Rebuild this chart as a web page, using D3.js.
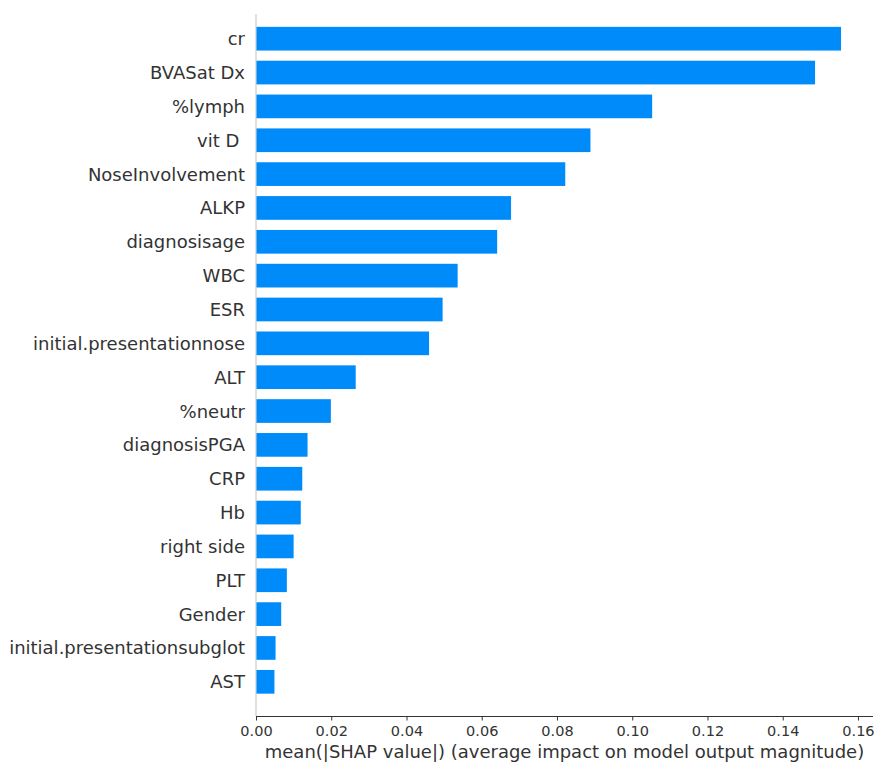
<!DOCTYPE html>
<html>
<head>
<meta charset="utf-8">
<script src="https://cdn.jsdelivr.net/npm/d3@7"></script>
<style>
  html, body { margin: 0; padding: 0; background: #fff; }
  svg { display: block; font-family: "DejaVu Sans", sans-serif; }
</style>
</head>
<body>
<svg id="chart" width="875" height="764"></svg>
<script>
// Feature names, ordered from most to least important
const features = [
  "cr", "BVASat Dx", "%lymph", "vit D ", "NoseInvolvement", "ALKP",
  "diagnosisage", "WBC", "ESR", "initial.presentationnose", "ALT",
  "%neutr", "diagnosisPGA", "CRP", "Hb", "right side", "PLT",
  "Gender", "initial.presentationsubglot", "AST"
];

// mean(|SHAP value|) per feature
const meanAbsShap = [
  0.1555, 0.1486, 0.1053, 0.0889, 0.0822, 0.0678,
  0.0641, 0.0536, 0.0496, 0.0460, 0.0265,
  0.0199, 0.0137, 0.0123, 0.0119, 0.0100, 0.0082,
  0.0067, 0.0052, 0.0049
];

const xTicks = [0, 0.02, 0.04, 0.06, 0.08, 0.10, 0.12, 0.14, 0.16];
const xTitle = "mean(|SHAP value|) (average impact on model output magnitude)";

const svg = d3.select("#chart");
const axisColor = "#333333";
const barColor = "#008bfb";

const plotLeft = 256, plotRight = 873, plotTop = 14, plotBottom = 716;

const x = d3.scaleLinear().domain([0, 0.164]).range([plotLeft, plotRight]);
// bars sit at integer positions; 0.7 wide like the SHAP bar plot
const y = d3.scaleLinear().domain([-0.73, features.length + 0.01]).range([plotTop, plotBottom]);
const barH = y(0.7) - y(0);

// bars
svg.append("g")
  .selectAll("rect")
  .data(features)
  .join("rect")
  .attr("x", x(0))
  .attr("y", (d, i) => y(i) - barH / 2)
  .attr("width", (d, i) => x(meanAbsShap[i]) - x(0))
  .attr("height", barH)
  .attr("fill", barColor);

// feature labels
svg.append("g")
  .selectAll("text")
  .data(features)
  .join("text")
  .attr("x", plotLeft - 11)
  .attr("y", (d, i) => y(i))
  .attr("dy", "0.36em")
  .attr("text-anchor", "end")
  .attr("font-size", 18)
  .attr("fill", axisColor)
  .style("white-space", "pre")
  .text(d => d);

// left spine
svg.append("line")
  .attr("x1", plotLeft).attr("x2", plotLeft)
  .attr("y1", plotTop).attr("y2", plotBottom)
  .attr("stroke", "#cccccc")
  .attr("stroke-width", 1.2);

// bottom axis
const xAxis = d3.axisBottom(x)
  .tickValues(xTicks)
  .tickFormat(d3.format(".2f"))
  .tickSize(4.5)
  .tickPadding(5);

const gx = svg.append("g")
  .attr("transform", `translate(0,${plotBottom})`)
  .call(xAxis);
gx.select(".domain")
  .attr("d", `M${plotLeft},0.5H${plotRight}`)
  .attr("stroke", axisColor)
  .attr("stroke-width", 1.2);
gx.selectAll(".tick line").attr("stroke", axisColor).attr("stroke-width", 1);
gx.selectAll(".tick text")
  .attr("fill", axisColor)
  .attr("font-size", 14.5)
  .attr("font-family", "DejaVu Sans, sans-serif");

// axis title
svg.append("text")
  .attr("x", (plotLeft + plotRight) / 2)
  .attr("y", 758)
  .attr("text-anchor", "middle")
  .attr("font-size", 18)
  .attr("fill", axisColor)
  .text(xTitle);
</script>
</body>
</html>
